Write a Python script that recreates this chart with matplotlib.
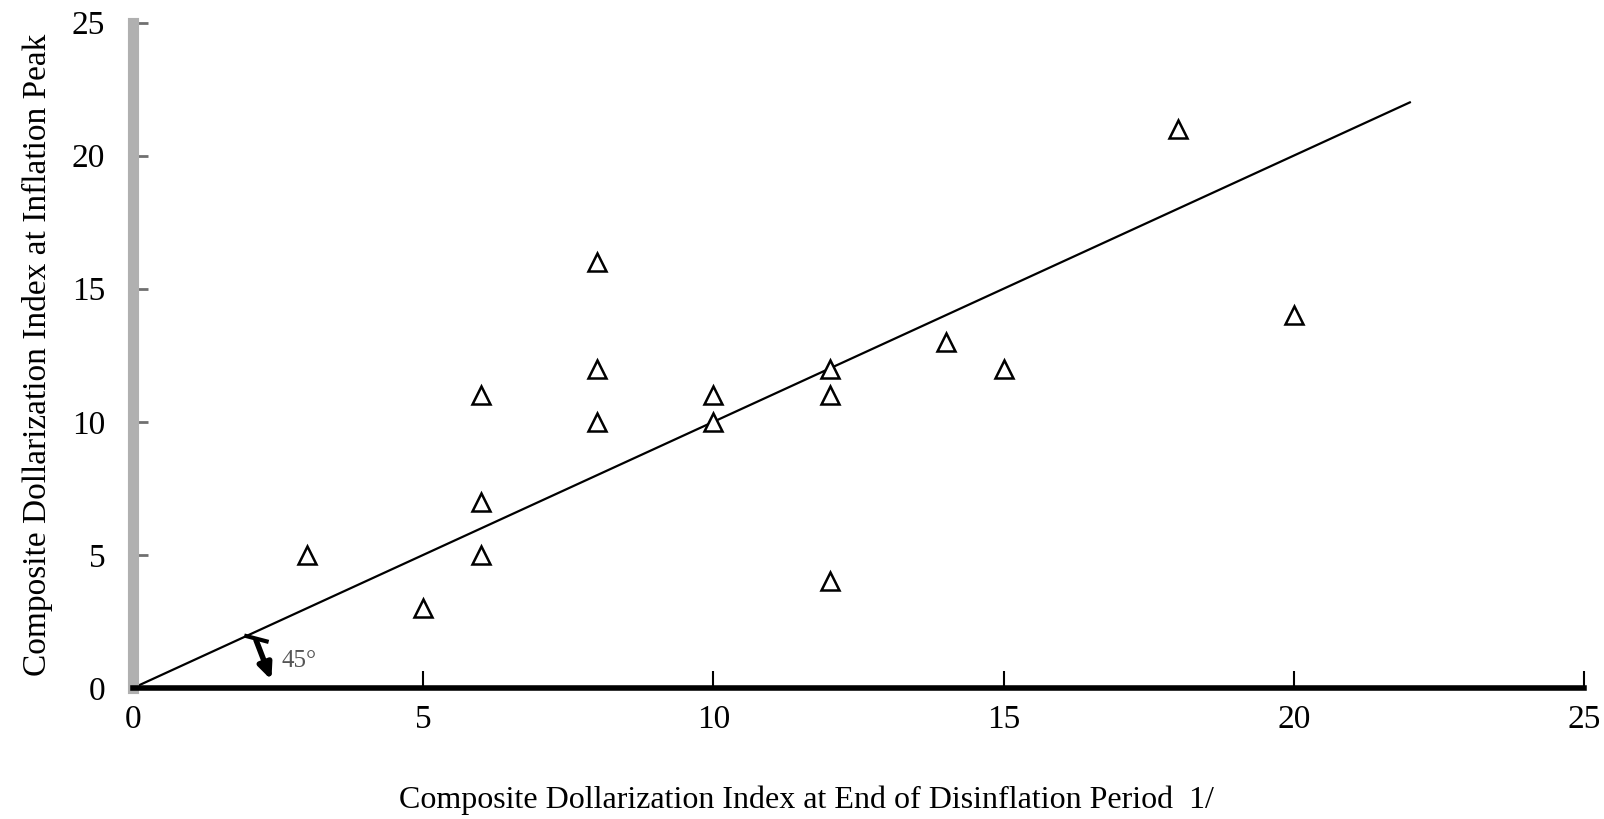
import matplotlib
matplotlib.use("Agg")
import matplotlib.pyplot as plt

# dollarization at end of disinflation (x) vs at inflation peak (y)
x_end = [3, 5, 6, 6, 6, 8, 8, 8, 10, 10, 12, 12, 12, 14, 15, 18, 20]
y_peak = [5, 3, 5, 7, 11, 16, 12, 10, 11, 10, 12, 11, 4, 13, 12, 21, 14]
line_x = [0, 22]
line_y = [0, 22]
ticks = [0, 5, 10, 15, 20, 25]

plt.rcParams["font.family"] = ["Liberation Serif", "DejaVu Serif"]

fig = plt.figure(figsize=(16.04, 8.19), dpi=100)
ax = fig.add_axes([0.083, 0.16, 0.9045, 0.8125])

ax.plot(line_x, line_y, color="black", lw=1.6)
ax.plot(x_end, y_peak, ls="none", marker="^", ms=13, mfc="white",
        mec="black", mew=1.8, clip_on=False)

# 45 degree marker
ax.plot([1.95, 2.3], [1.95, 1.75], color="black", lw=3)
ax.annotate("", xy=(2.4, 0.2), xytext=(2.1, 1.9),
            arrowprops=dict(arrowstyle="-|>,head_length=0.9,head_width=0.4",
                            color="black", lw=4))
ax.text(2.55, 1.0, "45°", fontsize=18, color="#555555", va="center")

ax.set_xlim(0, 25)
ax.set_ylim(0, 25)
ax.set_xticks(ticks)
ax.set_yticks(ticks)

for s in ["top", "right"]:
    ax.spines[s].set_visible(False)
ax.spines["bottom"].set_linewidth(4)
ax.spines["bottom"].set_color("black")
ax.spines["left"].set_linewidth(8)
ax.spines["left"].set_color("#b0b0b0")

ax.tick_params(axis="x", direction="in", length=12, width=1.5, color="black",
               pad=12, labelsize=24)
ax.tick_params(axis="y", direction="in", length=11, width=2, color="#707070",
               pad=20, labelsize=24)

ax.set_xlabel("Composite Dollarization Index at End of Disinflation Period  1/",
              fontsize=23)
ax.xaxis.set_label_coords(0.464, -0.147)
ax.set_ylabel("Composite Dollarization Index at Inflation Peak",
              fontsize=24, labelpad=14)

fig.savefig("out.png", dpi=100)
